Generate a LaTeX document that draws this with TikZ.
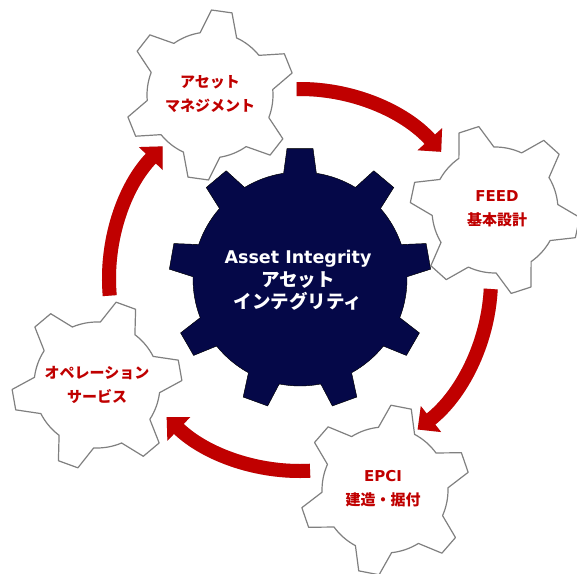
\documentclass[tikz,border=0pt]{standalone}
\usepackage{fontspec}
\setmainfont{DejaVu Sans}
\newfontfamily\jpfont{Noto Sans CJK JP Bold}
\usetikzlibrary{arrows.meta}
\definecolor{hubnavy}{RGB}{5,8,72}
\definecolor{flowred}{RGB}{192,0,0}
\definecolor{rimgray}{RGB}{128,128,128}
\newcommand\jp[1]{{\jpfont #1}}
% #1 style, #2 centre, #3 teeth, #4 first tooth angle, #5 root r, #6 tip r, #7/#8 half widths (deg)
\newcommand\gear[8]{%
  \draw[#1, shift={(#2)}] ({#4-#7}:#5)
    \foreach \k [evaluate=\k as \a using {#4+(\k-1)*360/#3}] in {1,...,#3} {
      -- ({\a-#8}:#6) -- ({\a+#8}:#6) -- ({\a+#7}:#5)
      arc[start angle={\a+#7}, end angle={\a+360/#3-#7}, radius=#5]
    } -- cycle;}
\tikzset{
  smallgear/.style={draw=rimgray, line width=1.2pt, fill=white, line join=round},
  hubgear/.style={fill=hubnavy},
  hubshade/.style={fill=black, opacity=.22, xshift=2pt, yshift=-2pt},
  flow/.style={draw=flowred, line width=14pt, -{Triangle[width=32pt,length=17pt]}},
  flowshade/.style={flow, draw=black, opacity=.2, xshift=2pt, yshift=-2pt},
  gtext/.style={text=flowred, align=center, font=\fontsize{15}{24}\selectfont\bfseries},
  htext/.style={text=white, align=center, font=\fontsize{17.5}{22.5}\selectfont\bfseries}
}
\begin{document}
\begin{tikzpicture}[x=1pt,y=1pt]
  \useasboundingbox (0,0) rectangle (577,573);
  \coordinate (hub) at (300,294);
  \coordinate (mgmt) at (210,478);
  \coordinate (feed) at (495,363);
  \coordinate (epci) at (385,83);
  \coordinate (ops) at (97,188);

  % small gears
  \gear{smallgear}{mgmt}{6}{82}{63}{85}{17}{7}
  \gear{smallgear}{feed}{6}{108}{63}{85}{17}{7}
  \gear{smallgear}{epci}{6}{79}{63}{85}{17}{7}
  \gear{smallgear}{ops}{6}{70}{63}{85}{17}{7}

  % central gear
  \gear{hubshade}{hub}{9}{90}{107}{131}{8.8}{5.7}
  \gear{hubgear}{hub}{9}{90}{107}{131}{8.8}{5.7}

  \node[htext] (hubtxt) at (298,292.5) {Asset Integrity\\{\fontsize{18.5}{22.5}\selectfont\jp{アセット}}\\{\fontsize{18.5}{22.5}\selectfont\jp{インテグリティ}}};
  \node[gtext] (mgmttxt) at (210,478.5) {\jp{アセット}\\\jp{マネジメント}};
  \node[gtext] (feedtxt) at (497,364.5) {FEED\\\jp{基本設計}};
  \node[gtext] (epcitxt) at (383,84.5) {EPCI\\\jp{建造・据付}};
  \node[gtext] (opstxt) at (97,188) {\jp{オペレーション}\\\jp{サービス}};

  % cycle arrows
  \foreach \s/\e/\r in {91/42/190, -3/-52/191, -87/-134/192, 185/136/191} {
    \draw[flowshade] ([shift={(\s:\r)}]hub) arc[start angle=\s, end angle=\e, radius=\r];
    \draw[flow] ([shift={(\s:\r)}]hub) arc[start angle=\s, end angle=\e, radius=\r];
  }
\end{tikzpicture}
\end{document}
